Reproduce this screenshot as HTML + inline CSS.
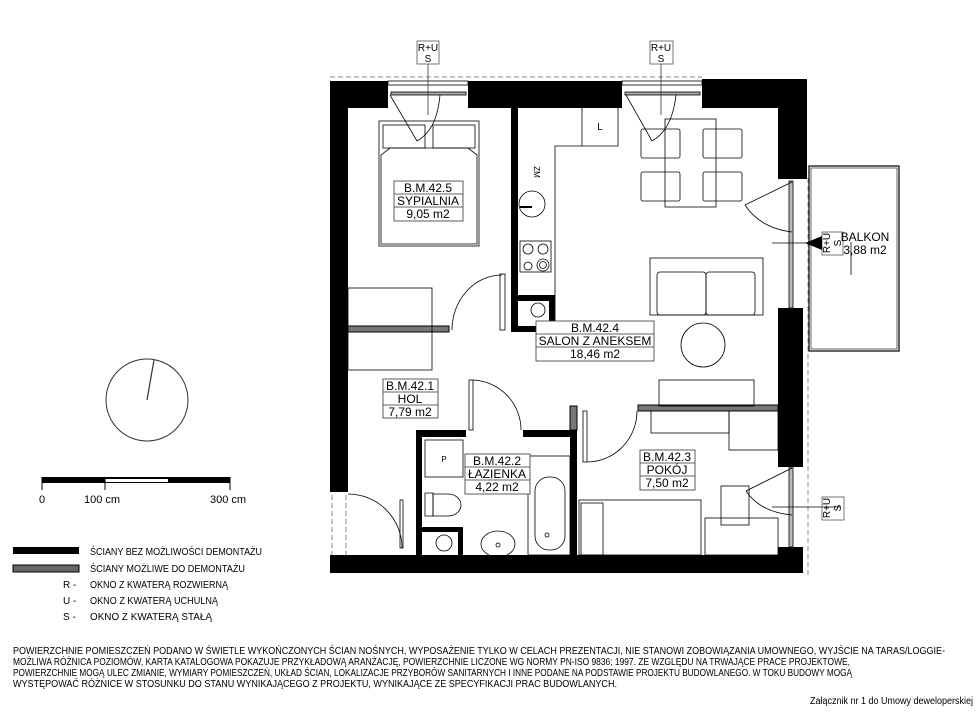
<!DOCTYPE html>
<html><head><meta charset="utf-8"><style>
html,body{margin:0;padding:0;background:#fff}
svg{display:block}
text{font-family:"Liberation Sans",sans-serif;fill:#000}
</style></head><body>
<svg width="980" height="721" viewBox="0 0 980 721" xmlns="http://www.w3.org/2000/svg">
<g fill="none" stroke="#000" stroke-width="1">
<line x1="330" y1="77" x2="702" y2="77" stroke="#888" stroke-dasharray="5,3"/>
<line x1="808" y1="178" x2="808" y2="575" stroke="#888" stroke-dasharray="5,3"/>
<line x1="332" y1="495" x2="332" y2="555" stroke="#888" stroke-dasharray="5,3"/>
<line x1="346" y1="495" x2="346" y2="555" stroke="#888" stroke-dasharray="5,3"/>
</g>
<g fill="#000">
<rect x="330" y="81" width="58" height="27"/>
<rect x="468" y="81" width="154" height="27"/>
<rect x="702" y="79" width="105" height="29"/>
<rect x="330" y="81" width="18" height="411"/>
<rect x="330" y="555" width="473" height="18"/>
<rect x="778" y="79" width="29" height="100"/>
<rect x="778" y="308" width="25" height="159"/>
<rect x="778" y="547" width="25" height="26"/>
<rect x="511" y="108" width="7" height="224"/>
<rect x="511" y="295" width="44" height="6"/>
<rect x="549" y="295" width="6" height="37"/>
<rect x="511" y="326" width="44" height="6"/>
<rect x="416" y="430" width="6" height="125"/>
<rect x="416" y="430" width="50" height="7"/>
<rect x="523" y="430" width="54" height="7"/>
<rect x="570" y="430" width="7" height="125"/>
<rect x="416" y="527" width="47" height="5"/>
<rect x="458" y="527" width="5" height="28"/>
</g>
<g fill="#777" stroke="#000" stroke-width="1">
<rect x="348" y="326" width="101" height="6"/>
<rect x="638" y="405" width="140" height="6"/>
<rect x="570" y="406" width="7" height="24"/>
</g>
<g fill="none" stroke="#000" stroke-width="0.8">
<rect x="388" y="81" width="80" height="4"/>
<rect x="391" y="92" width="75" height="3" fill="#aaa"/>
<rect x="622" y="81" width="80" height="4"/>
<rect x="625" y="92" width="75" height="3" fill="#aaa"/>
<line x1="390" y1="95" x2="417" y2="141"/>
<path d="M417 141 Q437 130 440 95"/>
<line x1="626" y1="95" x2="652" y2="141"/>
<path d="M652 141 Q672 130 676 95"/>
<line x1="428" y1="64" x2="428" y2="115" stroke="#333"/>
<line x1="661" y1="64" x2="661" y2="115" stroke="#333"/>
<rect x="417" y="41" width="22" height="23" stroke="#555"/>
<rect x="650" y="41" width="23" height="23" stroke="#555"/>
<rect x="789" y="181" width="4" height="127" fill="#bbb"/>
<line x1="792" y1="182" x2="745" y2="205"/>
<path d="M745 205 Q760 228 792 232"/>
<rect x="789" y="467" width="4" height="80" fill="#bbb"/>
<line x1="792" y1="468" x2="746" y2="491"/>
<path d="M746 491 Q760 512 792 515"/>
<line x1="772" y1="243" x2="822" y2="243"/>
<line x1="772" y1="507" x2="840" y2="507"/>
<rect x="809" y="166" width="90" height="185" stroke-width="1.2"/>
<rect x="811" y="168" width="86" height="181" stroke-width="0.6"/>
<line x1="851" y1="242" x2="851" y2="275"/>
<rect x="822" y="232" width="21" height="23" stroke="#555"/>
<rect x="822" y="497" width="22" height="23" stroke="#555"/>
<rect x="379" y="121" width="100" height="125"/>
<rect x="383" y="125" width="42" height="23"/>
<rect x="433" y="125" width="42" height="23"/>
<path d="M381 244 V155 L390 148 H468 L477 155 V244 Z"/>
<rect x="348" y="288" width="84" height="82"/>
<rect x="500" y="274" width="5" height="56"/>
<path d="M452 330 A50 55 0 0 1 502 275"/>
<path d="M555 330 V146 H618 V108 M582 108 V146"/>
<circle cx="532" cy="204" r="13"/>
<line x1="520" y1="207" x2="532" y2="207" stroke-width="2"/>
<rect x="520" y="241" width="31" height="31"/>
<circle cx="528" cy="249" r="5"/><circle cx="543" cy="249" r="5"/>
<circle cx="528" cy="266" r="4"/><circle cx="543" cy="265" r="6"/><circle cx="543" cy="265" r="3.5"/>
<circle cx="538" cy="310" r="7"/>
<rect x="665" y="119" width="51" height="88"/>
<rect x="641" y="129" width="39" height="29" rx="2"/>
<rect x="703" y="129" width="39" height="29" rx="2"/>
<rect x="641" y="172" width="39" height="29" rx="2"/>
<rect x="703" y="172" width="39" height="29" rx="2"/>
<rect x="650" y="258" width="113" height="57"/>
<rect x="657" y="272" width="49" height="43" rx="3"/>
<rect x="706" y="272" width="49" height="43" rx="3"/>
<circle cx="703" cy="345" r="22"/>
<rect x="659" y="380" width="95" height="26"/>
<rect x="651" y="411" width="78" height="22"/>
<rect x="729" y="411" width="49" height="39"/>
<rect x="583" y="411" width="4" height="51"/>
<path d="M587 462 A50 51 0 0 0 637 411"/>
<rect x="579" y="500" width="122" height="55"/>
<rect x="581" y="503" width="22" height="52"/>
<rect x="705" y="518" width="73" height="37"/>
<rect x="721" y="486" width="28" height="39"/>
<rect x="469" y="380" width="4" height="50"/>
<path d="M473 380 A50 50 0 0 1 521 430"/>
<rect x="425" y="440" width="38" height="37"/>
<rect x="528" y="456" width="42" height="99"/>
<rect x="535" y="477" width="30" height="73" rx="14"/>
<circle cx="547" cy="535" r="2"/>
<path d="M425 493 H433 V516 H425 Z"/>
<path d="M433 494 H448 A13 11 0 0 1 448 516 H433 Z"/>
<ellipse cx="498" cy="544" rx="17" ry="13"/>
<circle cx="498" cy="545" r="2"/>
<circle cx="444" cy="543" r="8"/>
<rect x="400" y="500" width="3" height="48"/>
<path d="M348 494 A54 54 0 0 1 402 548"/>
</g>
<polygon points="805,243 822,236 822,250" fill="#000"/>
<g fill="#fff" stroke="#333" stroke-width="0.8">
<rect x="394" y="181" width="69" height="40"/>
<line x1="394" y1="194" x2="463" y2="194"/><line x1="394" y1="207" x2="463" y2="207"/>
<rect x="536" y="321" width="118" height="40"/>
<line x1="536" y1="334" x2="654" y2="334"/><line x1="536" y1="347" x2="654" y2="347"/>
<rect x="383" y="379" width="55" height="39"/>
<line x1="383" y1="392" x2="438" y2="392"/><line x1="383" y1="405" x2="438" y2="405"/>
<rect x="465" y="454" width="65" height="40"/>
<line x1="465" y1="467" x2="530" y2="467"/><line x1="465" y1="480" x2="530" y2="480"/>
<rect x="640" y="450" width="55" height="40"/>
<line x1="640" y1="463" x2="695" y2="463"/><line x1="640" y1="476" x2="695" y2="476"/>
</g>
<g font-size="12" text-anchor="middle">
<text x="428" y="192">B.M.42.5</text><text x="428" y="205">SYPIALNIA</text><text x="428" y="218">9,05 m2</text>
<text x="595" y="332">B.M.42.4</text><text x="595" y="345">SALON Z ANEKSEM</text><text x="595" y="358">18,46 m2</text>
<text x="410" y="390">B.M.42.1</text><text x="410" y="403">HOL</text><text x="410" y="416">7,79 m2</text>
<text x="497" y="465">B.M.42.2</text><text x="497" y="478">ŁAZIENKA</text><text x="497" y="491">4,22 m2</text>
<text x="667" y="461">B.M.42.3</text><text x="667" y="474">POKÓJ</text><text x="667" y="487">7,50 m2</text>
<text x="865" y="241">BALKON</text><text x="865" y="254">3,88 m2</text>
</g>
<g font-size="10" text-anchor="middle">
<text x="428" y="51">R+U</text><text x="428" y="62">S</text>
<text x="661" y="51">R+U</text><text x="661" y="62">S</text>
<text x="600" y="130">L</text>
<text transform="translate(534,172) rotate(90)" font-size="8">ZM</text>
<text transform="translate(830,243) rotate(-90)">R+U</text>
<text transform="translate(841,243) rotate(-90)">S</text>
<text transform="translate(830,508) rotate(-90)">R+U</text>
<text transform="translate(841,508) rotate(-90)">S</text>
<text x="444" y="462" font-size="8">P</text>
</g>
<circle cx="147" cy="400" r="41" fill="none" stroke="#333" stroke-width="1"/>
<line x1="147" y1="400" x2="154" y2="360" stroke="#333" stroke-width="1.2"/>
<rect x="42" y="477" width="188" height="6" fill="#000"/>
<rect x="105" y="479" width="63" height="3" fill="#fff"/>
<g stroke="#000" stroke-width="1"><line x1="42" y1="477" x2="42" y2="490"/><line x1="105" y1="477" x2="105" y2="490"/><line x1="230" y1="477" x2="230" y2="490"/></g>
<g font-size="11"><text x="39" y="503">0</text><text x="84" y="503">100 cm</text><text x="210" y="503">300 cm</text></g>
<rect x="13" y="547" width="66" height="7" fill="#000"/>
<rect x="13" y="565" width="66" height="7" fill="#666" stroke="#000"/>
<g font-size="10">
<text x="90" y="555" textLength="172" lengthAdjust="spacingAndGlyphs">ŚCIANY BEZ MOŻLIWOŚCI DEMONTAŻU</text>
<text x="90" y="572" textLength="155" lengthAdjust="spacingAndGlyphs">ŚCIANY MOŻLIWE DO DEMONTAŻU</text>
<text x="63" y="588">R -</text><text x="90" y="588" textLength="138" lengthAdjust="spacingAndGlyphs">OKNO Z KWATERĄ ROZWIERNĄ</text>
<text x="63" y="604">U -</text><text x="90" y="604" textLength="128" lengthAdjust="spacingAndGlyphs">OKNO Z KWATERĄ UCHULNĄ</text>
<text x="63" y="620">S -</text><text x="90" y="620" textLength="122" lengthAdjust="spacingAndGlyphs">OKNO Z KWATERĄ STAŁĄ</text>
</g>
<g font-size="10">
<text x="13" y="654" textLength="932" lengthAdjust="spacingAndGlyphs">POWIERZCHNIE POMIESZCZEŃ PODANO W ŚWIETLE WYKOŃCZONYCH ŚCIAN NOŚNYCH, WYPOSAŻENIE TYLKO W CELACH PREZENTACJI, NIE STANOWI ZOBOWIĄZANIA UMOWNEGO, WYJŚCIE NA TARAS/LOGGIE-</text>
<text x="13" y="665" textLength="837" lengthAdjust="spacingAndGlyphs">MOŻLIWA RÓŻNICA POZIOMÓW, KARTA KATALOGOWA POKAZUJE PRZYKŁADOWĄ ARANŻACJĘ, POWIERZCHNIE LICZONE WG NORMY PN-ISO 9836; 1997. ZE WZGLĘDU NA TRWAJĄCE PRACE PROJEKTOWE,</text>
<text x="13" y="676" textLength="839" lengthAdjust="spacingAndGlyphs">POWIERZCHNIE MOGĄ ULEC ZMIANIE, WYMIARY POMIESZCZEŃ, UKŁAD ŚCIAN, LOKALIZACJE PRZYBORÓW SANITARNYCH I INNE PODANE NA PODSTAWIE PROJEKTU BUDOWLANEGO. W TOKU BUDOWY MOGĄ</text>
<text x="13" y="687" textLength="604" lengthAdjust="spacingAndGlyphs">WYSTĘPOWAĆ RÓŻNICE W STOSUNKU DO STANU WYNIKAJĄCEGO Z PROJEKTU, WYNIKAJĄCE ZE SPECYFIKACJI PRAC BUDOWLANYCH.</text>
<text x="810" y="704" textLength="163" lengthAdjust="spacingAndGlyphs">Załącznik nr 1 do Umowy deweloperskiej</text>
</g>
</svg>
</body></html>
